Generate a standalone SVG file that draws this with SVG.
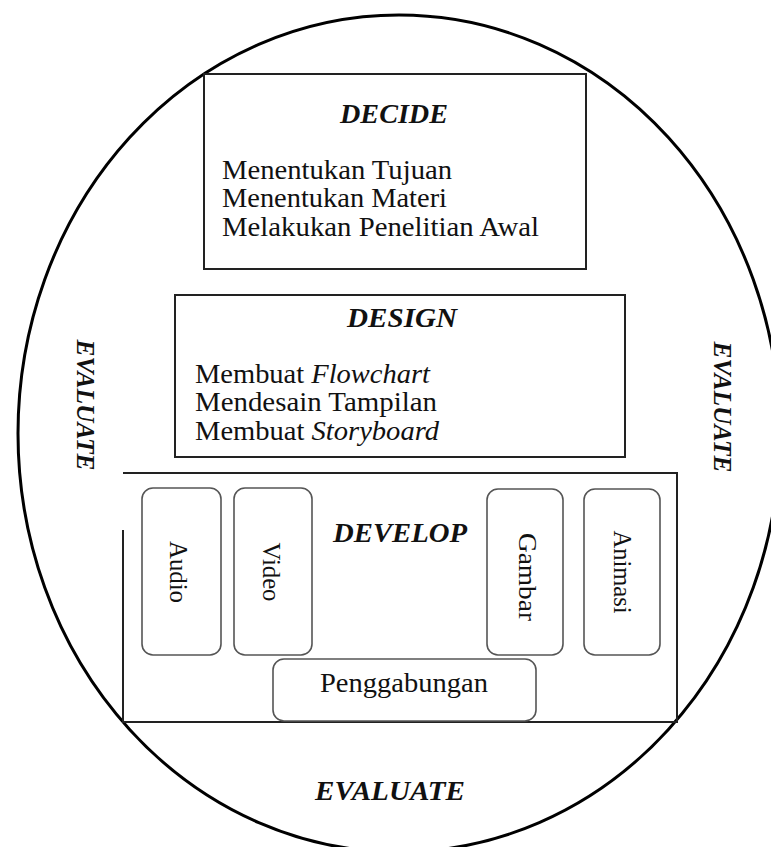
<svg xmlns="http://www.w3.org/2000/svg" width="771" height="847" viewBox="0 0 771 847">
<style>
.bg{fill:#fff}
.oval{fill:none;stroke:#000;stroke-width:3}
.box{fill:none;stroke:#222;stroke-width:2}
.sub{fill:#fff;stroke:#555;stroke-width:1.6}
text{font-family:"Liberation Serif","Times New Roman",serif;fill:#111}
.title{font-size:27px;font-weight:bold;font-style:italic;text-anchor:middle}
.body{font-size:27.5px}
.vert{font-size:26px;text-anchor:middle;dominant-baseline:central}
.evv{font-size:25px;font-weight:bold;font-style:italic;text-anchor:middle;dominant-baseline:central}
</style>
<rect class="bg" x="0" y="0" width="771" height="847"/>
<g id="cycle">
<ellipse class="oval" cx="399" cy="433.5" rx="381" ry="418.5"/>
</g>
<g id="decide">
<rect class="box" x="204" y="74" width="382" height="195"/>
<text class="title" x="394" y="123" textLength="108" lengthAdjust="spacingAndGlyphs">DECIDE</text>
<text class="body" x="222" y="179" textLength="230" lengthAdjust="spacingAndGlyphs">Menentukan Tujuan</text>
<text class="body" x="222" y="207" textLength="225" lengthAdjust="spacingAndGlyphs">Menentukan Materi</text>
<text class="body" x="222" y="236" textLength="317" lengthAdjust="spacingAndGlyphs">Melakukan Penelitian Awal</text>
</g>
<g id="design">
<rect class="box" x="175" y="295" width="450" height="162"/>
<text class="title" x="402" y="327" textLength="110" lengthAdjust="spacingAndGlyphs">DESIGN</text>
<text class="body" x="195" y="383" textLength="235" lengthAdjust="spacingAndGlyphs">Membuat <tspan font-style="italic">Flowchart</tspan></text>
<text class="body" x="195" y="411" textLength="242" lengthAdjust="spacingAndGlyphs">Mendesain Tampilan</text>
<text class="body" x="195" y="440" textLength="244" lengthAdjust="spacingAndGlyphs">Membuat <tspan font-style="italic">Storyboard</tspan></text>
</g>
<g id="develop">
<path class="box" d="M123,473 H677 V722 H123 V530"/>
<text class="title" x="400" y="542" textLength="134" lengthAdjust="spacingAndGlyphs">DEVELOP</text>
</g>
<g id="audio">
<rect class="sub" x="142" y="488" width="79" height="167" rx="11"/>
<text class="vert" transform="translate(178,572) rotate(90)" x="0" y="0" textLength="62" lengthAdjust="spacingAndGlyphs">Audio</text>
</g>
<g id="video">
<rect class="sub" x="234" y="488" width="78" height="167" rx="11"/>
<text class="vert" transform="translate(271,572) rotate(90)" x="0" y="0" textLength="59" lengthAdjust="spacingAndGlyphs">Video</text>
</g>
<g id="gambar">
<rect class="sub" x="487" y="489" width="76" height="166" rx="11"/>
<text class="vert" transform="translate(527,577) rotate(90)" x="0" y="0" textLength="88" lengthAdjust="spacingAndGlyphs">Gambar</text>
</g>
<g id="animasi">
<rect class="sub" x="584" y="489" width="76" height="166" rx="11"/>
<text class="vert" transform="translate(622,572) rotate(90)" x="0" y="0" textLength="83" lengthAdjust="spacingAndGlyphs">Animasi</text>
</g>
<g id="penggabungan">
<rect class="sub" x="273" y="659" width="263" height="62" rx="11"/>
<text class="body" x="404" y="692" text-anchor="middle" textLength="168" lengthAdjust="spacingAndGlyphs">Penggabungan</text>
</g>
<g id="evaluate-left">
<text class="evv" transform="translate(85,405) rotate(90)" x="0" y="0" textLength="131" lengthAdjust="spacingAndGlyphs">EVALUATE</text>
</g>
<g id="evaluate-right">
<text class="evv" transform="translate(722,407) rotate(90)" x="0" y="0" textLength="131" lengthAdjust="spacingAndGlyphs">EVALUATE</text>
</g>
<g id="evaluate-bottom">
<text class="title" x="390" y="800" textLength="150" lengthAdjust="spacingAndGlyphs">EVALUATE</text>
</g>
<g id="connectors"></g>
</svg>
